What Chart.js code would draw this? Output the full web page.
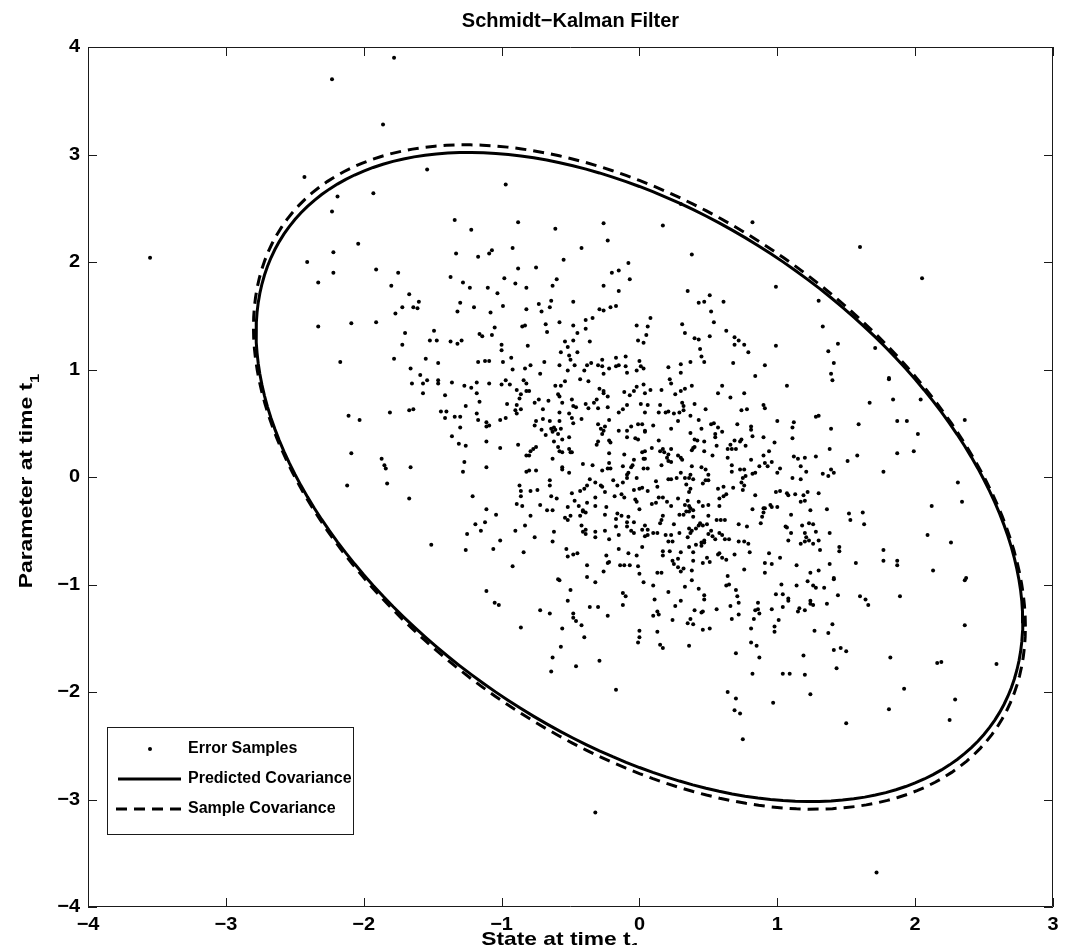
<!DOCTYPE html>
<html>
<head>
<meta charset="utf-8">
<script src="https://cdn.jsdelivr.net/npm/chart.js@4.4.1/dist/chart.umd.min.js"></script>
<style>
  html, body { margin: 0; padding: 0; background: #ffffff; }
  canvas { display: block; }
</style>
</head>
<body>
<canvas id="chart" width="1070" height="945"></canvas>
<script>
// ---- data ----
const chartTitle = "Schmidt\u2212Kalman Filter";
const xAxisTitle = "State at time t";
const yAxisTitle = "Parameter at time t";
const seriesNames = ["Error Samples", "Predicted Covariance", "Sample Covariance"];
const xTickValues = [-4, -3, -2, -1, 0, 1, 2, 3];
const yTickValues = [-4, -3, -2, -1, 0, 1, 2, 3, 4];

// covariance matrices (3-sigma contours)
const predictedCov = [[0.859, -0.416], [-0.416, 1.013]];
const sampleCov = [[0.871, -0.433], [-0.433, 1.061]];
const sigmaScale = 3;

// error samples (state, parameter)
const errorSamples = [
  [-2.19,2.61],[-1.93,2.64],[-2.23,2.47],[-0.97,2.72],[-1.34,2.39],[-1.22,2.30],[-0.88,2.37],[-2.04,2.17],[-2.22,2.09],[-2.41,2.00],
  [-1.33,2.08],[-1.17,2.05],[-1.09,2.08],[-1.07,2.11],[-0.92,2.13],[-1.91,1.93],[-2.22,1.90],[-1.75,1.90],[-0.88,1.94],[-2.33,1.81],
  [-1.80,1.78],[-1.37,1.86],[-1.28,1.81],[-1.23,1.76],[-1.10,1.76],[-0.98,1.85],[-0.90,1.80],[-0.82,1.76],[-1.03,1.71],[-1.67,1.70],
  [-1.60,1.63],[-1.72,1.58],[-1.64,1.58],[-1.61,1.57],[-1.77,1.52],[-1.30,1.62],[-1.32,1.54],[-1.20,1.58],[-1.08,1.53],[-0.99,1.59],
  [-0.82,1.56],[-2.33,1.40],[-2.09,1.43],[-1.91,1.44],[-1.70,1.34],[-1.49,1.36],[-1.72,1.23],[-1.52,1.27],[-1.47,1.27],[-1.37,1.26],
  [-1.32,1.24],[-1.29,1.27],[-1.16,1.33],[-1.14,1.31],[-1.07,1.32],[-1.05,1.39],[-0.85,1.40],[-0.83,1.41],[-1.00,1.23],[-1.00,1.18],
  [-0.81,1.22],[-2.17,1.07],[-1.78,1.10],[-1.55,1.10],[-1.66,1.01],[-1.46,1.06],[-1.59,0.95],[-1.17,1.07],[-1.12,1.08],[-1.09,1.08],
  [-0.99,1.07],[-0.93,1.11],[-0.92,1.00],[-0.83,1.01],
  [0.30,2.54],[0.17,2.34],[0.82,2.37],[-0.61,2.31],[-0.26,2.36],[-0.23,2.20],[-0.42,2.13],[0.38,2.07],[-0.55,2.02],[-0.75,1.95],
  [-0.08,1.99],[-0.20,1.90],[-0.15,1.92],[-0.60,1.84],[-0.63,1.78],[-0.07,1.84],[-0.26,1.78],[-0.15,1.73],[0.35,1.73],[0.51,1.69],
  [0.47,1.63],[0.43,1.62],[0.61,1.63],[-0.48,1.63],[-0.64,1.64],[-0.73,1.61],[-0.65,1.58],[-0.71,1.54],[-0.29,1.56],[-0.26,1.55],
  [-0.21,1.58],[-0.17,1.59],[0.52,1.54],[0.08,1.48],[-0.34,1.48],[-0.39,1.46],[-0.58,1.44],[-0.68,1.42],[-0.48,1.41],[-0.02,1.41],
  [0.06,1.40],[0.31,1.42],[0.54,1.44],[-0.67,1.35],[-0.45,1.34],[-0.39,1.38],[0.05,1.32],[0.33,1.34],[0.63,1.36],[-0.54,1.26],
  [-0.48,1.27],[-0.36,1.26],[-0.52,1.21],[-0.01,1.27],[0.03,1.25],[0.40,1.29],[0.43,1.28],[0.51,1.31],[0.69,1.30],[0.72,1.27],
  [0.69,1.23],[0.76,1.23],[-0.57,1.16],[-0.45,1.16],[-0.51,1.13],[-0.50,1.09],[0.79,1.16],[0.44,1.19],[0.45,1.12],[0.47,1.07],
  [0.37,1.07],[0.68,1.06],[0.91,1.04],[-0.69,1.07],[-0.58,1.04],[-0.47,1.04],[-0.35,1.06],[-0.38,1.04],[-0.30,1.04],[-0.27,1.03],
  [-0.27,1.09],[-0.17,1.11],[-0.17,1.03],[-0.15,1.04],[-0.10,1.12],[-0.10,1.03],[0.00,1.08],[0.01,1.03],[0.03,1.01],[-0.02,0.99],
  [-0.09,0.97],[0.21,1.02],[0.30,1.05],[0.30,0.97],[0.84,0.94],[-0.79,1.04],[-0.72,0.96],[-0.52,0.99],[-0.40,0.99],[-0.26,0.96],
  [-0.22,1.01],
  [1.60,2.14],[2.05,1.85],[0.99,1.77],[1.30,1.64],[1.33,1.40],[0.99,1.22],[1.44,1.24],[1.37,1.17],[1.71,1.20],[1.41,1.06],
  [1.39,0.96],[1.81,0.92],
  [-1.65,0.87],[-1.57,0.87],[-1.54,0.90],[-1.46,0.90],[-1.46,0.87],[-1.36,0.88],[-1.27,0.85],[-1.22,0.83],[-1.18,0.88],[-1.09,0.87],
  [-1.00,0.86],[-0.97,0.90],[-0.94,0.86],[-0.84,0.90],[-0.82,0.87],[-1.57,0.78],[-1.41,0.76],[-1.18,0.78],[-1.16,0.70],[-1.26,0.66],
  [-0.96,0.68],[-0.89,0.81],[-0.86,0.77],[-0.82,0.80],[-0.87,0.73],[-0.89,0.67],[-0.86,0.63],[-0.90,0.62],[-0.89,0.59],[-2.11,0.57],
  [-2.03,0.53],[-1.81,0.60],[-1.67,0.62],[-1.64,0.63],[-1.44,0.61],[-1.40,0.61],[-1.41,0.55],[-1.34,0.56],[-1.30,0.56],[-1.18,0.59],
  [-1.17,0.53],[-1.11,0.51],[-1.11,0.47],[-1.09,0.48],[-1.01,0.53],[-0.97,0.55],[-1.30,0.46],[-1.36,0.38],[-1.31,0.31],[-1.26,0.29],
  [-1.11,0.33],[-1.01,0.27],[-0.88,0.30],[-0.82,0.20],[-2.09,0.22],[-1.87,0.17],[-1.85,0.11],[-1.84,0.08],[-1.66,0.09],[-1.27,0.14],
  [-1.28,0.05],[-1.11,0.09],[-2.12,-0.08],[-1.83,-0.06],[-0.82,0.05],[-0.87,-0.08],[-0.86,-0.13],[-0.86,-0.18],[-1.67,-0.20],[-1.21,-0.18],
  [-0.89,-0.25],[-0.85,-0.27],[-1.11,-0.30],[-1.04,-0.35],[-1.19,-0.44],[-1.12,-0.42],[-1.15,-0.50],[-1.25,-0.53],[-0.90,-0.50],[-0.83,-0.45],
  [-1.51,-0.63],[-1.26,-0.68],[-1.06,-0.67],[-1.01,-0.59],[-0.84,-0.70],[-0.92,-0.83],
  [-0.61,0.85],[-0.57,0.85],[-0.54,0.89],[-0.43,0.91],[-0.37,0.89],[-0.29,0.82],[-0.26,0.80],[-0.26,0.78],[-0.23,0.75],[-0.80,0.80],
  [-0.11,0.79],[-0.07,0.76],[-0.04,0.80],[-0.02,0.84],[0.03,0.86],[0.04,0.78],[0.08,0.81],[0.16,0.81],[0.23,0.87],[0.22,0.91],
  [0.26,0.77],[0.30,0.80],[0.33,0.82],[0.38,0.85],[0.60,0.85],[0.57,0.78],[0.66,0.74],[0.76,0.78],[0.90,0.67],
  [-0.76,0.69],[-0.73,0.72],[-0.66,0.71],[-0.59,0.77],[-0.58,0.75],[-0.56,0.69],[-0.49,0.72],[-0.48,0.66],[-0.46,0.65],[-0.39,0.68],
  [-0.37,0.64],[-0.33,0.69],[-0.31,0.72],[-0.30,0.64],[-0.23,0.65],[-0.15,0.60],[-0.12,0.63],[-0.09,0.67],[0.01,0.68],[0.06,0.67],
  [0.04,0.60],[0.15,0.67],[0.14,0.60],[0.19,0.60],[0.21,0.61],[0.25,0.59],[0.29,0.60],[0.31,0.69],[0.32,0.66],[0.32,0.62],
  [0.40,0.68],[0.37,0.57],[0.48,0.63],[0.74,0.62],[0.78,0.63],[0.91,0.64],[-0.70,0.63],[-0.58,0.60],
  [-0.75,0.52],[-0.70,0.54],[-0.76,0.48],[-0.65,0.52],[-0.58,0.52],[-0.51,0.59],[-0.49,0.55],[-0.48,0.50],[-0.42,0.54],[-0.30,0.49],
  [-0.22,0.53],[-0.28,0.45],[-0.25,0.47],[-0.01,0.49],[0.02,0.49],[0.10,0.48],[0.23,0.45],[0.28,0.52],[0.43,0.53],[0.52,0.49],
  [0.54,0.50],[0.57,0.46],[0.71,0.49],[0.81,0.47],[0.81,0.44],[-0.62,0.46],[-0.64,0.45],[-0.61,0.44],[-0.63,0.42],
  [-0.71,0.44],[-0.57,0.45],[-0.59,0.40],[-0.51,0.37],[-0.56,0.35],[-0.68,0.39],[-0.62,0.33],[-0.26,0.43],[-0.27,0.40],[-0.15,0.43],
  [-0.09,0.43],[-0.06,0.47],[0.04,0.43],[0.04,0.42],[-0.09,0.37],[-0.03,0.36],[-0.01,0.35],[-0.22,0.34],[-0.21,0.32],[-0.30,0.33],
  [0.14,0.34],[0.37,0.41],[0.45,0.45],[0.40,0.35],[0.42,0.34],[0.47,0.33],[0.55,0.40],[0.55,0.37],[0.60,0.42],[0.82,0.38],
  [0.90,0.37],[0.66,0.30],[0.69,0.34],[0.73,0.33],[0.74,0.35],
  [-0.75,0.28],[-0.77,0.26],[-0.79,0.24],[-0.80,0.20],[-0.59,0.28],[-0.58,0.24],[-0.56,0.23],[-0.51,0.26],[-0.50,0.23],[-0.49,0.23],
  [-0.31,0.30],[-0.22,0.22],[-0.11,0.21],[0.02,0.23],[0.04,0.24],[0.09,0.27],[0.15,0.24],[0.17,0.26],[0.18,0.23],[0.23,0.26],
  [0.21,0.21],[0.20,0.18],[0.28,0.20],[0.30,0.18],[0.31,0.16],[0.38,0.25],[0.40,0.28],[0.39,0.27],[0.47,0.24],[0.53,0.20],
  [0.56,0.29],[0.64,0.26],[0.67,0.26],[0.70,0.26],[0.77,0.29],[0.81,0.16],[0.90,0.20],[0.64,0.18],
  [-0.80,0.06],[-0.75,0.06],[-0.63,0.17],[-0.56,0.09],[-0.56,0.07],[-0.51,0.04],[-0.41,0.12],[-0.34,0.11],[-0.27,0.06],[-0.23,0.08],
  [-0.21,0.08],[-0.22,0.13],[-0.12,0.10],[-0.09,0.02],[-0.06,0.09],[-0.05,0.11],[-0.04,0.16],[0.03,0.17],[0.04,0.17],[0.03,0.08],
  [0.06,0.08],[0.16,0.11],[0.21,0.15],[0.23,0.14],[0.30,0.04],[0.38,0.10],[0.37,0.02],[0.33,-0.01],[0.36,-0.01],[0.45,0.09],
  [0.48,0.07],[0.50,0.02],[0.67,0.05],[0.73,0.07],[0.76,0.07],[0.77,0.01],[0.75,-0.01],[0.82,0.03],[0.84,0.04],[0.87,0.10],
  [0.91,0.13],[-0.65,-0.03],[-0.65,-0.08],
  [-0.79,-0.13],[-0.74,-0.12],[-0.64,-0.18],[-0.49,-0.15],[-0.43,-0.13],[-0.40,-0.11],[-0.38,-0.08],[-0.36,-0.02],[-0.32,-0.05],[-0.32,-0.19],
  [-0.28,-0.08],[-0.27,-0.09],[-0.25,-0.14],[-0.19,-0.03],[-0.16,-0.08],[-0.12,-0.05],[-0.09,-0.01],[-0.08,0.04],[-0.02,-0.01],[-0.04,-0.12],
  [0.00,-0.11],[0.02,-0.10],[0.06,-0.13],[0.12,-0.04],[0.13,-0.09],[0.21,-0.02],[0.23,-0.02],[0.27,-0.01],[0.34,-0.07],[0.36,-0.14],
  [0.37,-0.11],[0.39,-0.02],[0.46,-0.06],[0.48,-0.03],[0.50,-0.03],[0.57,-0.11],[0.61,-0.09],[0.68,-0.10],[0.74,-0.05],[0.76,-0.08],
  [0.75,-0.12],[0.84,-0.17],[0.67,0.11],
  [-0.72,-0.26],[-0.60,-0.20],[-0.52,-0.28],[-0.47,-0.22],[-0.44,-0.27],[-0.41,-0.31],[-0.38,-0.24],[-0.24,-0.28],[-0.32,-0.27],[-0.18,-0.18],
  [-0.13,-0.16],[-0.11,-0.19],[-0.03,-0.21],[-0.02,-0.23],[0.00,-0.30],[0.09,-0.25],[0.12,-0.24],[0.14,-0.19],[0.17,-0.19],[0.20,-0.23],
  [0.23,-0.27],[0.28,-0.20],[0.33,-0.26],[0.35,-0.22],[0.36,-0.27],[0.37,-0.29],[0.39,-0.31],[0.36,-0.32],[0.43,-0.23],[0.46,-0.27],
  [0.50,-0.26],[0.58,-0.27],[0.58,-0.20],[0.61,-0.18],[0.63,-0.16],[0.82,-0.30],[0.91,-0.29],
  [-0.79,-0.36],[-0.67,-0.31],[-0.63,-0.31],[-0.54,-0.38],[-0.52,-0.40],[-0.50,-0.36],[-0.43,-0.36],[-0.41,-0.32],[-0.39,-0.33],[-0.42,-0.45],
  [-0.39,-0.49],[-0.25,-0.35],[-0.16,-0.34],[-0.13,-0.36],[-0.17,-0.39],[-0.08,-0.37],[-0.09,-0.42],[-0.04,-0.42],[0.04,-0.45],[0.06,-0.49],
  [0.10,-0.52],[0.13,-0.52],[0.16,-0.40],[0.17,-0.36],[0.15,-0.43],[0.25,-0.44],[0.29,-0.35],[0.32,-0.35],[0.39,-0.37],[0.34,-0.32],
  [0.44,-0.43],[0.46,-0.45],[0.50,-0.36],[0.49,-0.44],[0.56,-0.40],[0.59,-0.40],[0.62,-0.40],[0.72,-0.44],[0.78,-0.46],[0.88,-0.43],
  [0.90,-0.33],[0.89,-0.37],[0.90,-0.29],[-0.76,-0.56],
  [-0.62,-0.51],[-0.63,-0.60],[-0.41,-0.51],[-0.39,-0.53],[-0.32,-0.51],[-0.32,-0.56],[-0.25,-0.50],[-0.22,-0.58],[-0.17,-0.46],[-0.15,-0.54],
  [-0.09,-0.46],[-0.06,-0.50],[-0.04,-0.52],[0.02,-0.49],[0.04,-0.55],[0.06,-0.54],[0.19,-0.54],[0.23,-0.54],[0.24,-0.60],[0.21,-0.60],
  [0.29,-0.52],[0.35,-0.56],[0.37,-0.52],[0.38,-0.50],[0.36,-0.48],[0.41,-0.48],[0.43,-0.45],[0.45,-0.61],[0.47,-0.59],[0.50,-0.53],
  [0.52,-0.50],[0.53,-0.55],[0.58,-0.52],[0.60,-0.54],[0.62,-0.58],[0.65,-0.58],[0.72,-0.60],[0.76,-0.60],[0.79,-0.62],[0.55,-0.58],
  [-0.53,-0.67],[-0.52,-0.74],[-0.48,-0.72],[-0.45,-0.71],[-0.24,-0.73],[-0.22,-0.79],[-0.23,-0.80],[-0.15,-0.67],[-0.08,-0.71],[-0.02,-0.73],
  [0.02,-0.65],[0.17,-0.69],[0.17,-0.73],[0.22,-0.69],[0.24,-0.78],[0.28,-0.76],[0.30,-0.70],[0.36,-0.65],[0.39,-0.70],[0.39,-0.78],
  [0.41,-0.63],[0.45,-0.64],[0.47,-0.61],[0.49,-0.75],[0.51,-0.79],[0.57,-0.72],[0.58,-0.71],[0.60,-0.75],[0.63,-0.77],[0.69,-0.72],
  [0.80,-0.70],[0.91,-0.80],
  [-0.38,-0.82],[-0.38,-0.93],[-0.26,-0.88],[-0.14,-0.82],[-0.11,-0.82],[-0.07,-0.82],[-0.01,-0.83],[0.00,-0.90],[0.13,-0.89],[0.16,-0.89],
  [0.25,-0.81],[0.28,-0.84],[0.32,-0.85],[0.30,-0.88],[0.38,-0.87],[0.46,-0.80],[0.64,-0.92],[0.76,-0.86],[0.91,-0.89],[-0.59,-0.95],
  [1.07,0.85],[1.40,0.90],[1.81,0.91],[1.67,0.69],[1.84,0.72],[2.04,0.72],[1.00,0.52],[1.12,0.51],[1.11,0.46],[1.28,0.56],
  [1.30,0.57],[1.39,0.45],[1.59,0.49],[1.87,0.52],[1.94,0.52],[2.02,0.40],[2.36,0.53],[0.98,0.32],[1.11,0.36],[0.94,0.24],
  [1.38,0.26],[1.12,0.19],[1.15,0.17],[1.20,0.18],[1.28,0.19],[1.58,0.20],[1.51,0.15],[1.87,0.22],[1.99,0.24],[0.96,0.14],
  [0.93,0.10],[1.02,0.08],[1.00,0.04],[1.17,0.10],[1.21,0.05],[1.33,0.03],[1.37,0.01],[1.39,0.07],[1.41,0.04],[1.77,0.05],
  [1.11,-0.01],[1.17,-0.02],[0.99,-0.14],[1.02,-0.13],[1.07,-0.15],[1.08,-0.17],[1.13,-0.16],[1.19,-0.17],[1.22,-0.14],[1.30,-0.15],
  [1.17,-0.23],[1.20,-0.22],[0.95,-0.26],[0.96,-0.28],[1.00,-0.28],[1.10,-0.35],[1.24,-0.31],[1.36,-0.30],[1.52,-0.34],[1.53,-0.40],
  [1.62,-0.33],[1.63,-0.44],[2.12,-0.27],[2.31,-0.05],[2.34,-0.23],[1.06,-0.46],[1.07,-0.47],[1.10,-0.52],[1.18,-0.45],[1.23,-0.43],
  [1.26,-0.44],[1.28,-0.51],[1.38,-0.52],[1.20,-0.52],[1.21,-0.56],[1.23,-0.59],[1.20,-0.60],[1.26,-0.62],[1.30,-0.59],[1.17,-0.62],
  [1.08,-0.59],[1.31,-0.68],[1.45,-0.65],[1.45,-0.69],[0.94,-0.71],[1.02,-0.75],[0.96,-0.81],[1.14,-0.82],[1.24,-0.89],[1.30,-0.87],
  [1.38,-0.81],[1.41,-0.94],[1.57,-0.80],[1.77,-0.78],[1.77,-0.68],[1.87,-0.78],[1.87,-0.82],[2.09,-0.54],[2.26,-0.61],[2.13,-0.87],
  [2.37,-0.94],
  [-1.11,-1.06],[-1.05,-1.17],[-1.02,-1.19],[-0.86,-1.40],
  [-0.58,-0.96],[-0.32,-0.98],[0.03,-0.98],[0.10,-1.01],[0.38,-0.96],[0.33,-1.02],[0.43,-1.04],[0.63,-1.01],[0.65,-1.00],[-0.50,-1.05],
  [-0.12,-1.08],[-0.10,-1.11],[0.21,-1.07],[0.11,-1.14],[0.47,-1.10],[0.47,-1.14],[0.70,-1.05],[0.71,-1.11],[0.72,-1.17],[0.66,-1.20],
  [0.86,-1.17],[0.84,-1.24],[0.86,-1.23],[0.87,-1.27],[-0.72,-1.24],[-0.65,-1.27],[-0.52,-1.15],[-0.36,-1.21],[-0.30,-1.21],[-0.23,-1.29],
  [-0.48,-1.27],[-0.48,-1.31],[-0.46,-1.34],[-0.42,-1.38],[-0.12,-1.19],[0.10,-1.29],[0.13,-1.25],[0.14,-1.28],[0.26,-1.20],[0.30,-1.15],
  [0.24,-1.33],[0.35,-1.36],[0.37,-1.32],[0.39,-1.37],[0.40,-1.24],[0.46,-1.25],[0.45,-1.26],[0.56,-1.23],[0.67,-1.32],[0.72,-1.28],
  [0.83,-1.32],[-0.56,-1.41],[-0.40,-1.49],[0.00,-1.43],[0.00,-1.49],[-0.01,-1.54],[0.13,-1.44],[0.15,-1.56],[0.17,-1.59],[0.36,-1.57],
  [0.46,-1.42],[0.51,-1.41],[0.81,-1.41],[0.81,-1.54],[0.85,-1.57],[0.87,-1.68],[0.70,-1.64],[-0.57,-1.58],[-0.63,-1.68],[-0.46,-1.76],
  [-0.29,-1.71],[-0.64,-1.81],[0.82,-1.83],[-0.17,-1.98],[0.64,-2.00],[0.70,-2.06],[0.69,-2.17],[0.73,-2.20],[0.75,-2.44],
  [1.03,-1.00],[1.14,-1.01],[1.22,-0.97],[1.26,-1.01],[1.28,-1.03],[1.34,-1.03],[1.41,-0.95],[0.99,-1.09],[1.04,-1.09],[1.08,-1.13],
  [1.08,-1.15],[1.24,-1.15],[1.24,-1.18],[1.26,-1.19],[1.36,-1.18],[1.44,-1.10],[1.60,-1.11],[1.64,-1.14],[1.66,-1.19],[1.89,-1.11],
  [2.36,-0.96],[0.96,-1.23],[1.04,-1.21],[1.16,-1.22],[1.15,-1.25],[1.20,-1.24],[1.01,-1.33],[0.98,-1.39],[0.98,-1.44],[1.27,-1.43],
  [1.37,-1.45],[1.40,-1.37],[1.41,-1.61],[1.46,-1.59],[1.50,-1.62],[1.19,-1.66],[1.43,-1.78],[1.82,-1.68],[1.04,-1.83],[1.09,-1.83],
  [1.20,-1.84],[1.24,-2.02],[0.97,-2.10],[1.92,-1.97],[1.81,-2.16],[1.50,-2.29],[2.16,-1.73],[2.19,-1.72],[2.36,-1.38],[2.59,-1.74],
  [2.29,-2.07],[2.25,-2.26],
  [-3.55,2.04],[-2.23,3.70],[-1.78,3.90],[-1.86,3.28],[-2.43,2.79],[-1.54,2.86],[-0.32,-3.12],[1.72,-3.68]
];

// ---- helpers ----
const FONT = '"Liberation Sans", Arial, Helvetica, sans-serif';

function ellipsePoints(cov) {
  const s2 = sigmaScale * sigmaScale;
  const a = Math.sqrt(s2 * cov[0][0]);
  const b = (s2 * cov[0][1]) / a;
  const c = Math.sqrt(s2 * cov[1][1] - b * b);
  const pts = [];
  for (let i = 0; i <= 360; i += 2) {
    const t = (i * Math.PI) / 180;
    pts.push({ x: a * Math.cos(t), y: b * Math.cos(t) + c * Math.sin(t) });
  }
  return pts;
}

// bold text, optionally widened (sx) and rotated
function drawText(ctx, text, x, y, size, align, sx, rotate) {
  ctx.save();
  ctx.font = `bold ${size}px ${FONT}`;
  ctx.fillStyle = "#000";
  ctx.textAlign = align;
  ctx.textBaseline = "middle";
  ctx.translate(x, y);
  if (rotate) {
    ctx.rotate(-Math.PI / 2);
    ctx.scale(1, sx);
  } else {
    ctx.scale(sx, 1);
  }
  ctx.fillText(text, 0, 0);
  ctx.restore();
}

// text followed by a subscript "1", centred on (x, y)
function drawSubText(ctx, text, x, y, size, sx, rotate) {
  ctx.save();
  ctx.font = `bold ${size}px ${FONT}`;
  const w1 = ctx.measureText(text).width;
  ctx.font = `bold ${size * 0.72}px ${FONT}`;
  const w2 = ctx.measureText("1").width;
  const total = w1 + w2;
  ctx.translate(x, y);
  if (rotate) {
    ctx.rotate(-Math.PI / 2);
    ctx.scale(sx, 1);
  } else {
    ctx.scale(sx, 1);
  }
  ctx.fillStyle = "#000";
  ctx.textBaseline = "middle";
  ctx.textAlign = "left";
  ctx.font = `bold ${size}px ${FONT}`;
  ctx.fillText(text, -total / 2, 0);
  ctx.font = `bold ${size * 0.72}px ${FONT}`;
  ctx.fillText("1", -total / 2 + w1, size * 0.45);
  ctx.restore();
}

function fmt(v) {
  return v < 0 ? "\u2212" + Math.abs(v) : String(v);
}

// axes box, inward ticks, labels, title and legend, MATLAB style
const matlabFrame = {
  id: "matlabFrame",
  afterDatasetsDraw(chart) {
    const ctx = chart.ctx;
    const { left, right, top, bottom } = chart.chartArea;
    const xs = chart.scales.x;
    const ys = chart.scales.y;
    const tick = 9;

    ctx.save();
    ctx.strokeStyle = "#1a1a1a";
    ctx.lineWidth = 1;
    ctx.beginPath();
    ctx.rect(left + 0.5, top + 0.5, right - left - 1, bottom - top - 1);
    xTickValues.forEach((v) => {
      const px = Math.round(xs.getPixelForValue(v)) + 0.5;
      ctx.moveTo(px, bottom); ctx.lineTo(px, bottom - tick);
      ctx.moveTo(px, top); ctx.lineTo(px, top + tick);
    });
    yTickValues.forEach((v) => {
      const py = Math.round(ys.getPixelForValue(v)) + 0.5;
      ctx.moveTo(left, py); ctx.lineTo(left + tick, py);
      ctx.moveTo(right, py); ctx.lineTo(right - tick, py);
    });
    ctx.stroke();
    ctx.restore();

    xTickValues.forEach((v) => {
      drawText(ctx, fmt(v), xs.getPixelForValue(v), bottom + 18, 19, "center", 1.05);
    });
    yTickValues.forEach((v) => {
      drawText(ctx, fmt(v), left - 8, ys.getPixelForValue(v), 19, "right", 1.05);
    });

    drawText(ctx, chartTitle, (left + right) / 2, 21, 20, "center", 1.0);
    drawSubText(ctx, xAxisTitle, (left + right) / 2 - 10, 940, 19, 1.2, false);
    drawSubText(ctx, yAxisTitle, 27, (top + bottom) / 2 + 4, 19, 1.2, true);

    // legend
    const lg = { x: 107, y: 727, w: 246, h: 107 };
    ctx.save();
    ctx.fillStyle = "#fff";
    ctx.fillRect(lg.x, lg.y, lg.w, lg.h);
    ctx.strokeStyle = "#1a1a1a";
    ctx.lineWidth = 1;
    ctx.strokeRect(lg.x + 0.5, lg.y + 0.5, lg.w, lg.h);
    const rows = [749, 779, 809];
    ctx.fillStyle = "#000";
    ctx.beginPath();
    ctx.arc(150, rows[0], 2, 0, Math.PI * 2);
    ctx.fill();
    ctx.strokeStyle = "#000";
    ctx.lineWidth = 3;
    ctx.beginPath();
    ctx.moveTo(118, rows[1]); ctx.lineTo(181, rows[1]);
    ctx.stroke();
    ctx.setLineDash([11, 7]);
    ctx.beginPath();
    ctx.moveTo(116, rows[2]); ctx.lineTo(184, rows[2]);
    ctx.stroke();
    ctx.restore();
    seriesNames.forEach((name, i) => drawText(ctx, name, 188, rows[i], 16, "left", 1.0));
  }
};

new Chart(document.getElementById("chart"), {
  type: "scatter",
  data: {
    datasets: [
      {
        label: seriesNames[0],
        data: errorSamples.map(([x, y]) => ({ x, y })),
        pointRadius: 2,
        pointBorderWidth: 0,
        pointBackgroundColor: "#000",
        order: 3
      },
      {
        label: seriesNames[1],
        data: ellipsePoints(predictedCov),
        showLine: true,
        borderColor: "#000",
        borderWidth: 3,
        pointRadius: 0,
        tension: 0,
        order: 2
      },
      {
        label: seriesNames[2],
        data: ellipsePoints(sampleCov),
        showLine: true,
        borderColor: "#000",
        borderWidth: 3,
        borderDash: [11, 7],
        pointRadius: 0,
        tension: 0,
        order: 1
      }
    ]
  },
  options: {
    responsive: false,
    animation: false,
    layout: { padding: { left: 88, right: 17, top: 47, bottom: 38 } },
    scales: {
      x: { type: "linear", min: -4, max: 3, display: false },
      y: { type: "linear", min: -4, max: 4, display: false }
    },
    plugins: {
      legend: { display: false },
      tooltip: { enabled: false }
    }
  },
  plugins: [matlabFrame]
});
</script>
</body>
</html>
